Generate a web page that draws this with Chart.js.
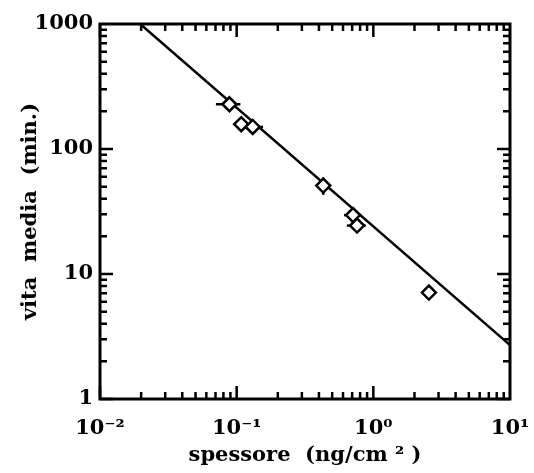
<!DOCTYPE html>
<html>
<head>
<meta charset="utf-8">
<script src="https://cdn.jsdelivr.net/npm/chart.js@4"></script>
<style>
  body { margin: 0; background: #fff; }
  #wrap { width: 534px; height: 473px; }
</style>
</head>
<body>
<div id="wrap"><canvas id="lifeChart"></canvas></div>
<script>
// tick labels
const xTicks = [0.01, 0.1, 1, 10];
const xTickLabels = ['10\u207B\u00B2', '10\u207B\u00B9', '10\u2070', '10\u00B9'];
const yTicks = [1, 10, 100, 1000];
const yTickLabels = ['1', '10', '100', '1000'];

// measured points: thickness (ng/cm2) vs mean life (min)
const thickness = [0.0885, 0.108, 0.131, 0.43, 0.71, 0.76, 2.55];
const lifetime = [228, 158, 150, 51, 29.6, 24.4, 7.1];
const thicknessErr = [0.018, 0.012, 0.025, 0, 0.1, 0.12, 0];
const lifetimeErr = [0, 0, 0, 8, 4, 0, 0];

// fitted line end points
const fitX = [0.0197, 10];
const fitY = [1000, 2.7];

const serif = '"DejaVu Serif", "Liberation Serif", serif';

// error bars, drawn under the markers
const errorBars = {
  id: 'errorBars',
  beforeDatasetsDraw(chart) {
    const ctx = chart.ctx;
    const xs = chart.scales.x, ys = chart.scales.y;
    ctx.save();
    ctx.strokeStyle = '#000';
    ctx.lineWidth = 2.5;
    thickness.forEach((t, i) => {
      const px = xs.getPixelForValue(t), py = ys.getPixelForValue(lifetime[i]);
      if (thicknessErr[i] > 0) {
        ctx.beginPath();
        ctx.moveTo(xs.getPixelForValue(t - thicknessErr[i]), py);
        ctx.lineTo(xs.getPixelForValue(t + thicknessErr[i]), py);
        ctx.stroke();
      }
      if (lifetimeErr[i] > 0) {
        ctx.beginPath();
        ctx.moveTo(px, ys.getPixelForValue(lifetime[i] - lifetimeErr[i]));
        ctx.lineTo(px, ys.getPixelForValue(lifetime[i] + lifetimeErr[i]));
        ctx.stroke();
      }
    });
    ctx.restore();
  }
};

// box frame with inward ticks on all four sides
const frameTicks = {
  id: 'frameTicks',
  afterDatasetsDraw(chart) {
    const ctx = chart.ctx;
    const a = chart.chartArea;
    const xs = chart.scales.x, ys = chart.scales.y;
    ctx.save();
    ctx.strokeStyle = '#000';
    ctx.lineWidth = 2.5;
    for (let d = -2; d < 1; d++) {
      for (let m = 1; m <= 9; m++) {
        const px = xs.getPixelForValue(m * Math.pow(10, d));
        const len = m === 1 ? 13 : 7;
        ctx.beginPath();
        ctx.moveTo(px, a.bottom); ctx.lineTo(px, a.bottom - len);
        ctx.moveTo(px, a.top); ctx.lineTo(px, a.top + len);
        ctx.stroke();
      }
    }
    for (let d = 0; d < 3; d++) {
      for (let m = 1; m <= 9; m++) {
        const py = ys.getPixelForValue(m * Math.pow(10, d));
        const len = m === 1 ? 13 : 7;
        ctx.beginPath();
        ctx.moveTo(a.left, py); ctx.lineTo(a.left + len, py);
        ctx.moveTo(a.right, py); ctx.lineTo(a.right - len, py);
        ctx.stroke();
      }
    }
    ctx.lineWidth = 3;
    ctx.strokeRect(a.left, a.top, a.right - a.left, a.bottom - a.top);
    ctx.restore();
  }
};

const ctx = document.getElementById('lifeChart').getContext('2d');
new Chart(ctx, {
  type: 'scatter',
  data: {
    datasets: [{
      label: 'misure',
      data: thickness.map((t, i) => ({ x: t, y: lifetime[i] })),
      pointStyle: 'rectRot',
      pointRadius: 7,
      pointBackgroundColor: '#fff',
      pointBorderColor: '#000',
      pointBorderWidth: 2.5
    }, {
      label: 'fit',
      data: fitX.map((x, i) => ({ x: x, y: fitY[i] })),
      showLine: true,
      pointRadius: 0,
      borderColor: '#000',
      borderWidth: 2.5
    }]
  },
  options: {
    responsive: true,
    maintainAspectRatio: false,
    animation: false,
    layout: { padding: { left: 14, right: 24, top: 24, bottom: 1 } },
    plugins: { legend: { display: false }, tooltip: { enabled: false } },
    scales: {
      x: {
        type: 'logarithmic',
        min: 0.01,
        max: 10,
        afterBuildTicks: s => { s.ticks = xTicks.map(v => ({ value: v })); },
        afterFit: s => { s.height = 73; s.paddingLeft = 0; s.paddingRight = 0; },
        grid: { display: false, drawTicks: false },
        border: { display: false },
        ticks: {
          color: '#000',
          padding: 17,
          autoSkip: false,
          maxRotation: 0,
          font: { family: serif, size: 21, weight: 'bold' },
          callback: (v, i) => xTickLabels[i]
        },
        title: {
          display: true,
          text: 'spessore  (ng/cm \u00B2 )',
          color: '#000',
          font: { family: serif, size: 21, weight: 'bold' }
        }
      },
      y: {
        type: 'logarithmic',
        min: 1,
        max: 1000,
        afterBuildTicks: s => { s.ticks = yTicks.map(v => ({ value: v })); },
        afterFit: s => { s.width = 86; s.paddingTop = 0; s.paddingBottom = 0; },
        grid: { display: false, drawTicks: false },
        border: { display: false },
        ticks: {
          color: '#000',
          padding: 7,
          autoSkip: false,
          font: { family: serif, size: 21, weight: 'bold' },
          callback: (v, i) => yTickLabels[i]
        },
        title: {
          display: true,
          text: 'vita  media  (min.)',
          color: '#000',
          font: { family: serif, size: 21, weight: 'bold' }
        }
      }
    }
  },
  plugins: [errorBars, frameTicks]
});
</script>
</body>
</html>
